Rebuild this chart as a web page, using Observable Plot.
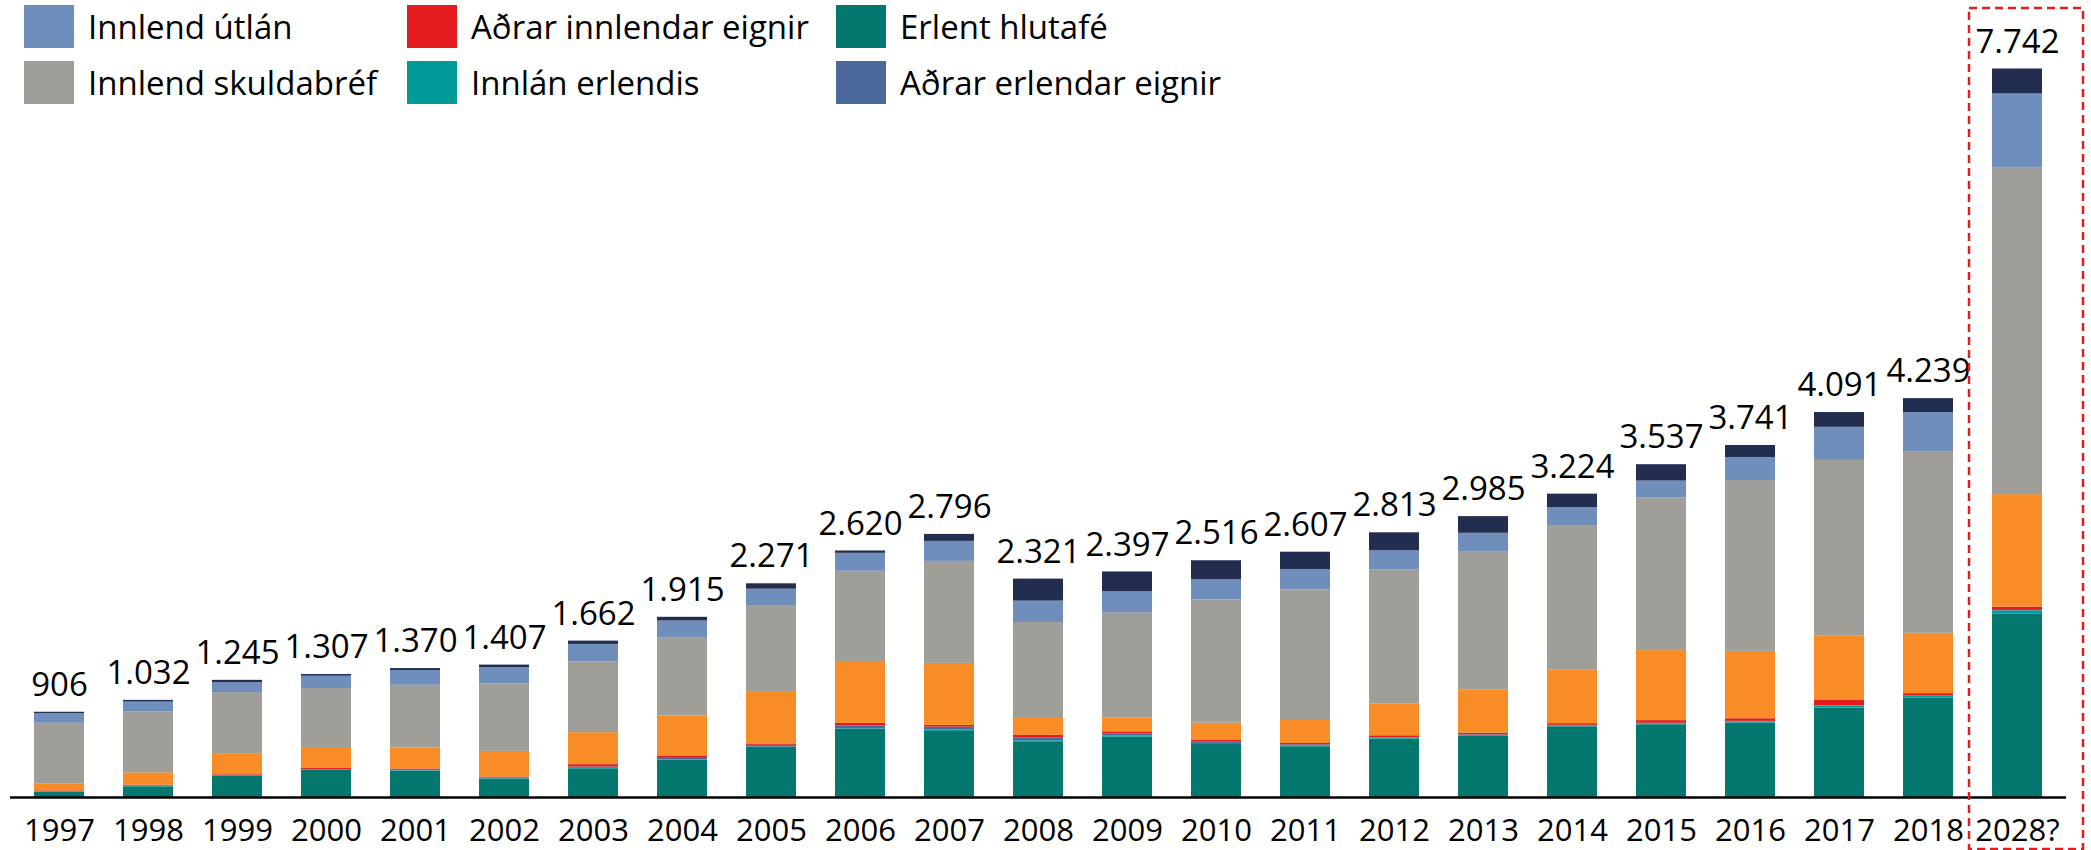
<!DOCTYPE html>
<html>
<head>
<meta charset="utf-8">
<script src="https://cdn.jsdelivr.net/npm/d3@7"></script>
<script src="https://cdn.jsdelivr.net/npm/@observablehq/plot@0.6"></script>
<style>
  html, body { margin: 0; padding: 0; background: #fff; }
  #wrap { position: relative; width: 2091px; height: 850px; font-family: "Open Sans", sans-serif; }
  #legend { position: absolute; left: 0; top: 0; width: 2091px; height: 110px; pointer-events: none; }
  .item { position: absolute; display: flex; align-items: center; height: 43px; font-size: 33px; color: #000; white-space: nowrap; }
  .sw { width: 50px; height: 43px; margin-right: 14px; flex: none; }
</style>
</head>
<body>
<div id="wrap"><div id="legend"></div></div>
<script>
// ---- data ----
const years = ["1997","1998","1999","2000","2001","2002","2003","2004","2005","2006","2007","2008","2009","2010","2011","2012","2013","2014","2015","2016","2017","2018","2028?"];
const totals = [906,1032,1245,1307,1370,1407,1662,1915,2271,2620,2796,2321,2397,2516,2607,2813,2985,3224,3537,3741,4091,4239,7742];

const erlentHlutafe     = [53,113,223,287,280,195,305,397,532,723,702,592,641,563,539,620,652,751,773,790,951,1058,1948];
const innlanErlendis    = [5,4,3,4,4,4,5,5,5,7,14,11,11,11,7,11,7,11,11,14,20,15,35];
const adrarErlendar     = [5,7,10,7,5,7,14,14,18,32,32,32,21,14,14,7,7,5,5,5,5,5,5];
const adrarInnlendar    = [7,7,7,11,14,11,25,25,14,25,18,25,25,18,14,18,18,18,28,28,56,26,35];
const innlendHlutabref  = [71,131,223,213,223,273,340,425,556,648,659,191,146,184,255,340,461,567,744,716,687,641,1195];
const innlendSkuldabref = [648,649,648,636,667,716,754,833,915,969,1084,1009,1117,1311,1378,1424,1468,1539,1625,1816,1864,1924,3470];
const innlendUtlan      = [103,103,106,131,156,173,184,177,174,191,213,227,227,216,216,202,195,188,177,244,351,422,789];
const innlanInnlend     = [14,18,25,18,21,28,35,39,57,25,74,234,209,199,184,191,177,145,174,128,157,148,265];

// stacking order, bottom to top
const seriesNames = ["Erlent hlutafé","Innlán erlendis","Aðrar erlendar eignir","Aðrar innlendar eignir","Innlend hlutabréf","Innlend skuldabréf","Innlend útlán","Innlán innlend"];
const seriesValues = [erlentHlutafe, innlanErlendis, adrarErlendar, adrarInnlendar, innlendHlutabref, innlendSkuldabref, innlendUtlan, innlanInnlend];
const seriesColors = ["#04786f","#009a98","#4b6a9b","#e31d1f","#f88c27","#9f9e98","#6f8ebb","#222d4f"];

// legend as shown in the reference (two rows, three columns)
const legendItems = ["Innlend útlán","Aðrar innlendar eignir","Erlent hlutafé","Innlend skuldabréf","Innlán erlendis","Aðrar erlendar eignir"];
const highlightYear = "2028?";

// ---- build ----
const rows = years.flatMap((y, i) => seriesNames.map((s, j) => ({year: y, series: s, value: seriesValues[j][i]})));
const totalRows = years.map((y, i) => ({year: y, total: totals[i]}));
const fmt = d3.formatLocale({decimal: ",", thousands: ".", grouping: [3], currency: ["", ""]}).format(",d");
const colorOf = s => seriesColors[seriesNames.indexOf(s)];

const chart = Plot.plot({
  width: 2091,
  height: 850,
  marginLeft: 10,
  marginRight: 25,
  marginTop: 8,
  marginBottom: 53,
  style: {fontFamily: "Open Sans, sans-serif", background: "#fff", color: "#000"},
  x: {type: "band", domain: years, paddingInner: 0.44, paddingOuter: 0.22, label: null},
  y: {domain: [0, 8385], axis: null},
  color: {domain: seriesNames, range: seriesColors},
  marks: [
    Plot.barY(rows, {x: "year", y: "value", fill: "series"}),
    Plot.ruleY([0], {stroke: "#000", strokeWidth: 2.5}),
    Plot.text(totalRows, {x: "year", y: "total", text: d => fmt(d.total), dy: -27, fontSize: 33, fill: "#000", lineAnchor: "middle"}),
    Plot.axisX({tickSize: 0, tickPadding: 21, fontSize: 31, fill: "#000"}),
    Plot.barY([highlightYear], {x: d => d, y1: 0, y2: 8385, fill: "none", stroke: "#e31d1f", strokeWidth: 2.5, strokeDasharray: "8,5", insetLeft: -23, insetRight: -41, insetBottom: -52, clip: false})
  ]
});
document.getElementById("wrap").prepend(chart);

// legend
const legendPos = [
  {left: 24, top: 5}, {left: 407, top: 5}, {left: 836, top: 5},
  {left: 24, top: 61}, {left: 407, top: 61}, {left: 836, top: 61}
];
const leg = document.getElementById("legend");
legendItems.forEach((name, i) => {
  const d = document.createElement("div");
  d.className = "item";
  d.style.left = legendPos[i].left + "px";
  d.style.top = legendPos[i].top + "px";
  const sw = document.createElement("span");
  sw.className = "sw";
  sw.style.background = colorOf(name);
  const t = document.createElement("span");
  t.textContent = name;
  d.append(sw, t);
  leg.append(d);
});
</script>
</body>
</html>
